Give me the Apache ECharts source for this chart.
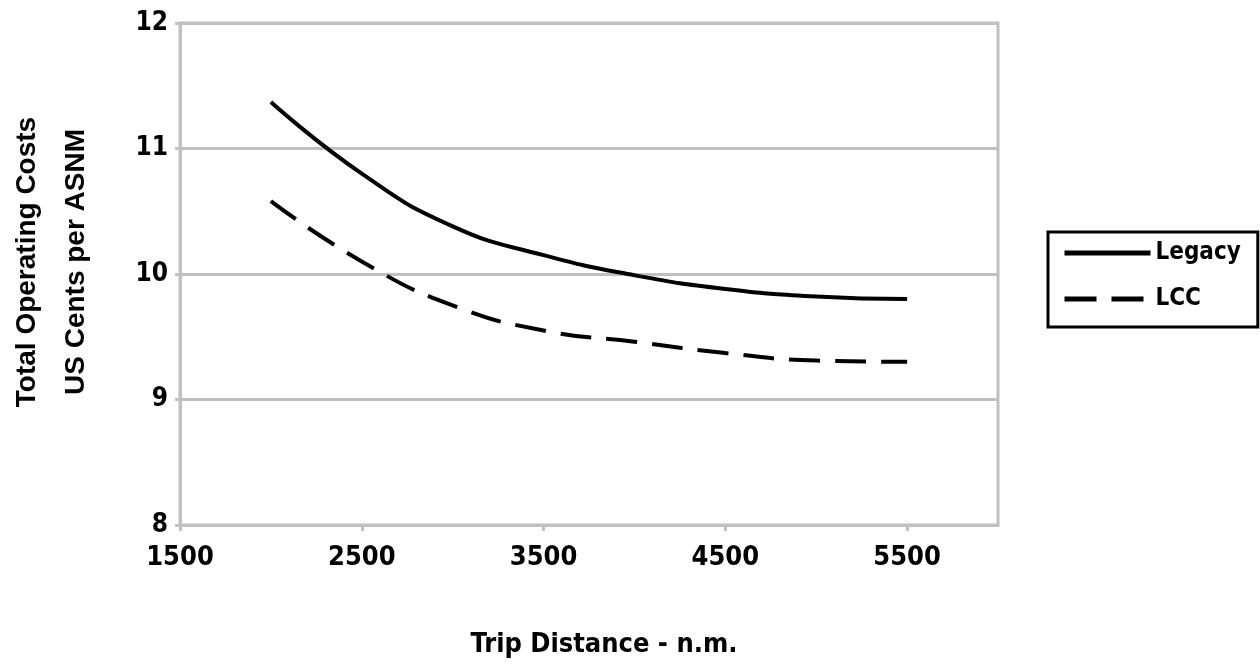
<!DOCTYPE html>
<html>
<head>
<meta charset="utf-8">
<script src="https://cdn.jsdelivr.net/npm/echarts@6/dist/echarts.min.js"></script>
<style>
html,body{margin:0;padding:0;background:#fff;}
#chart{width:1260px;height:669px;}
</style>
</head>
<body>
<div id="chart"></div>
<script>
const tripDistance = [2000, 2500, 3000, 3500, 4000, 4500, 5000, 5500];
const legacyCost = [11.37, 10.80, 10.38, 10.15, 9.99, 9.88, 9.82, 9.80];
const lccCost = [10.58, 10.10, 9.75, 9.55, 9.46, 9.37, 9.31, 9.30];
const xTickLabels = [1500, 2500, 3500, 4500, 5500];
const yTickLabels = [8, 9, 10, 11, 12];
const seriesNames = ['Legacy', 'LCC'];
const yTitle = 'Total Operating Costs\nUS Cents per ASNM';
const xTitle = 'Trip Distance - n.m.';

const COND = '"DejaVu Sans Condensed", "Liberation Sans Narrow", "Liberation Sans", sans-serif';
const WIDE = '"Liberation Sans", Arial, sans-serif';
const gray = '#c0c0c0';

const chart = echarts.init(document.getElementById('chart'), null, {renderer: 'canvas'});
chart.setOption({
  animation: false,
  backgroundColor: '#fff',
  grid: {left: 180, top: 23, width: 818, height: 502, show: true, borderColor: gray, borderWidth: 3, backgroundColor: '#fff'},
  xAxis: {
    type: 'value', min: 1500, max: 6000, interval: 1000,
    axisLine: {show: true, lineStyle: {color: gray, width: 3}},
    axisTick: {show: true, length: 6, lineStyle: {color: gray, width: 3}, customValues: xTickLabels},
    axisLabel: {customValues: xTickLabels, color: '#000', fontFamily: COND, fontWeight: 'bold', fontSize: 27, margin: 19,
      formatter: v => String(v)},
    splitLine: {show: false}
  },
  yAxis: {
    type: 'value', min: 8, max: 12, interval: 1,
    axisLine: {show: true, lineStyle: {color: gray, width: 3}},
    axisTick: {show: true, length: 5, lineStyle: {color: gray, width: 3}},
    axisLabel: {color: '#000', fontFamily: COND, fontWeight: 'bold', fontSize: 26, margin: 12,
      formatter: v => yTickLabels.indexOf(v) >= 0 ? String(v) : ''},
    splitLine: {show: true, lineStyle: {color: gray, width: 3}}
  },
  legend: {
    orient: 'vertical', left: 1048, top: 232,
    padding: [9, 17, 16, 14], itemGap: 22, itemWidth: 86, itemHeight: 14,
    borderColor: '#000', borderWidth: 3, backgroundColor: '#fff',
    itemStyle: {color: 'rgba(0,0,0,0)', borderWidth: 0, opacity: 0},
    textStyle: {color: '#000', fontFamily: COND, fontWeight: 'bold', fontSize: 24},
    data: [
      {name: seriesNames[0], lineStyle: {color: '#000', width: 5, type: 'solid'}},
      {name: seriesNames[1], lineStyle: {color: '#000', width: 5, type: [32, 15]}}
    ]
  },
  graphic: [
    {type: 'text', x: 52, y: 262, rotation: Math.PI / 2,
      style: {text: yTitle, fill: '#000', font: 'bold 28px ' + WIDE, align: 'center', verticalAlign: 'middle', lineHeight: 49}},
    {type: 'text', x: 604, y: 645,
      style: {text: xTitle, fill: '#000', font: 'bold 27px ' + COND, align: 'center', verticalAlign: 'middle'}}
  ],
  series: [
    {name: seriesNames[0], type: 'line', smooth: true, symbol: 'none', showSymbol: false,
      data: tripDistance.map((d, i) => [d, legacyCost[i]]),
      lineStyle: {color: '#000', width: 4, type: 'solid'}, itemStyle: {color: '#000'}},
    {name: seriesNames[1], type: 'line', smooth: true, symbol: 'none', showSymbol: false,
      data: tripDistance.map((d, i) => [d, lccCost[i]]),
      lineStyle: {color: '#000', width: 4, type: [31, 15]}, itemStyle: {color: '#000'}}
  ]
});
</script>
</body>
</html>
